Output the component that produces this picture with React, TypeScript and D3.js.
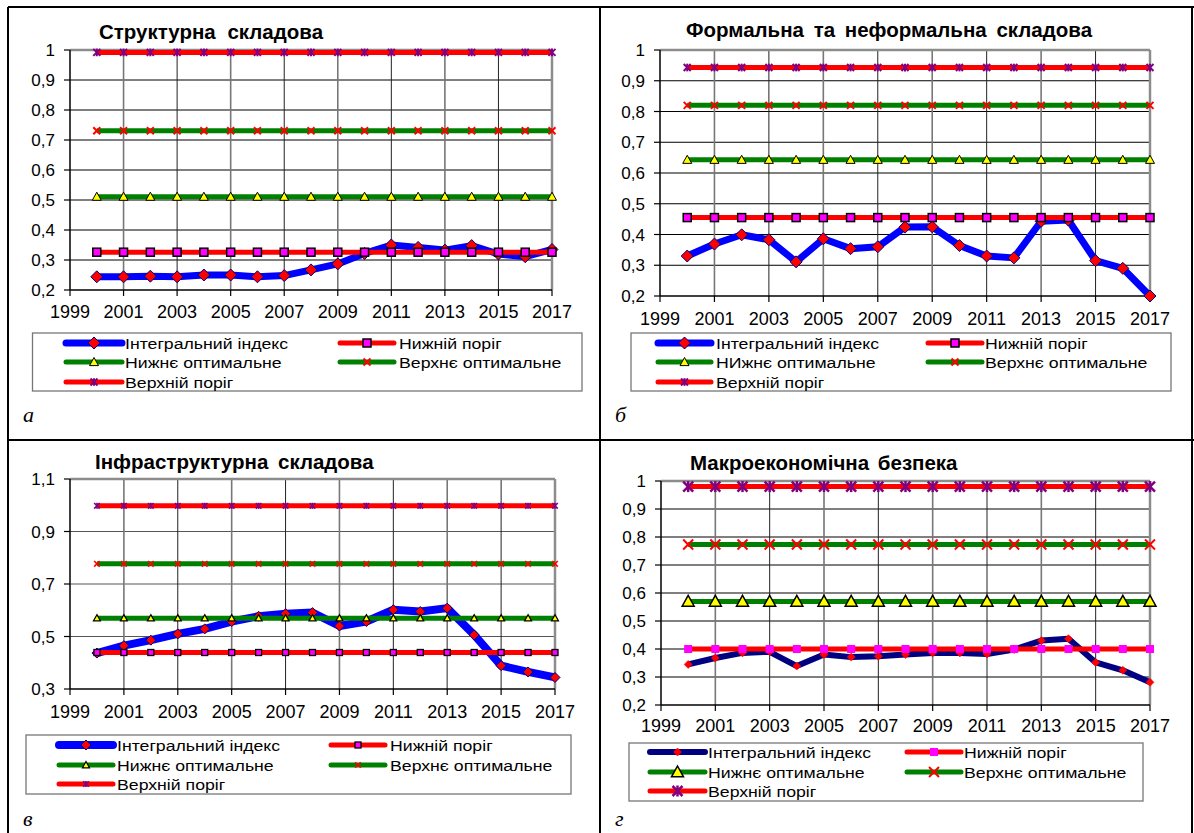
import React from 'react';
import * as d3 from 'd3';

const years = [2000, 2001, 2002, 2003, 2004, 2005, 2006, 2007, 2008, 2009, 2010, 2011, 2012, 2013, 2014, 2015, 2016, 2017];
const xTickYears = [1999, 2001, 2003, 2005, 2007, 2009, 2011, 2013, 2015, 2017];

// Panel а — Структурна складова
const structIndex = [0.244, 0.244, 0.246, 0.244, 0.25, 0.25, 0.244, 0.248, 0.267, 0.287, 0.322, 0.35, 0.342, 0.333, 0.348, 0.32, 0.311, 0.335];
const structThresholds = [0.326, 0.511, 0.731, 0.992]; // нижній поріг, нижнє опт., верхнє опт., верхній поріг
const structYTicks = [0.2, 0.3, 0.4, 0.5, 0.6, 0.7, 0.8, 0.9, 1];
const structYLabels = ['0,2', '0,3', '0,4', '0,5', '0,6', '0,7', '0,8', '0,9', '1'];

// Panel б — Формальна та неформальна складова
const formalIndex = [0.33, 0.369, 0.399, 0.383, 0.311, 0.386, 0.354, 0.36, 0.424, 0.425, 0.364, 0.33, 0.324, 0.443, 0.447, 0.315, 0.29, 0.2];
const formalThresholds = [0.455, 0.643, 0.82, 0.943];
const formalYTicks = [0.2, 0.3, 0.4, 0.5, 0.6, 0.7, 0.8, 0.9, 1];
const formalYLabels = ['0,2', '0,3', '0,4', '0,5', '0,6', '0,7', '0,8', '0,9', '1'];

// Panel в — Інфраструктурна складова
const infraIndex = [0.437, 0.465, 0.486, 0.51, 0.529, 0.557, 0.577, 0.587, 0.591, 0.54, 0.557, 0.602, 0.595, 0.608, 0.506, 0.389, 0.365, 0.344];
const infraThresholds = [0.439, 0.57, 0.777, 0.998];
const infraYTicks = [0.3, 0.5, 0.7, 0.9, 1.1];
const infraYLabels = ['0,3', '0,5', '0,7', '0,9', '1,1'];

// Panel г — Макроекономічна безпека
const macroIndex = [0.345, 0.368, 0.386, 0.39, 0.339, 0.38, 0.371, 0.374, 0.38, 0.386, 0.386, 0.382, 0.398, 0.43, 0.437, 0.352, 0.324, 0.281];
const macroThresholds = [0.4, 0.57, 0.773, 0.98];
const macroYTicks = [0.2, 0.3, 0.4, 0.5, 0.6, 0.7, 0.8, 0.9, 1];
const macroYLabels = ['0,2', '0,3', '0,4', '0,5', '0,6', '0,7', '0,8', '0,9', '1'];

const legendLabels = ['Інтегральний індекс', 'Нижній поріг', 'Нижнє оптимальне', 'Верхнє оптимальне', 'Верхній поріг'];
const legendLabelsB = ['Інтегральний індекс', 'Нижній поріг', 'НИжнє оптимальне', 'Верхнє оптимальне', 'Верхній поріг'];

const FONT = '"Liberation Sans", Arial, sans-serif';

type MarkerStyle = { type: string; size: number; fill: string; stroke: string; sw: number };

function Marker({ m, x, y }: { m: MarkerStyle; x: number; y: number }) {
  const s = m.size;
  if (m.type === 'diamond') {
    return <polygon points={`${x},${y - s} ${x + s},${y} ${x},${y + s} ${x - s},${y}`} fill={m.fill} stroke={m.stroke} strokeWidth={m.sw} />;
  }
  if (m.type === 'square') {
    return <rect x={x - s} y={y - s} width={2 * s} height={2 * s} fill={m.fill} stroke={m.stroke} strokeWidth={m.sw} />;
  }
  if (m.type === 'triangle') {
    return <polygon points={`${x},${y - s} ${x + s},${y + s * 0.8} ${x - s},${y + s * 0.8}`} fill={m.fill} stroke={m.stroke} strokeWidth={m.sw} />;
  }
  if (m.type === 'x') {
    return (
      <g stroke={m.stroke} strokeWidth={m.sw}>
        <line x1={x - s} y1={y - s} x2={x + s} y2={y + s} />
        <line x1={x - s} y1={y + s} x2={x + s} y2={y - s} />
      </g>
    );
  }
  // star (asterisk)
  return (
    <g stroke={m.stroke} strokeWidth={m.sw}>
      <line x1={x - s} y1={y - s} x2={x + s} y2={y + s} />
      <line x1={x - s} y1={y + s} x2={x + s} y2={y - s} />
      <line x1={x} y1={y - s * 1.1} x2={x} y2={y + s * 1.1} />
    </g>
  );
}

type SeriesStyle = { color: string; width: number; marker: MarkerStyle };

type PanelCfg = {
  title: string; titleX: number; titleY: number; titleSpacing: number;
  letter: string; letterX: number; letterY: number;
  l: number; r: number; t: number; b: number;
  yTicks: number[]; yLabels: string[];
  index: number[]; thresholds: number[];
  styles: SeriesStyle[];
  xLabelY: number;
  hGrid: string;
  legend: { x: number; y: number; w: number; h: number; rows: number[]; c1: number[]; c2: number[] };
  labels: string[];
};

function Panel({ p }: { p: PanelCfg }) {
  const x = d3.scaleLinear().domain([1999, 2017]).range([p.l, p.r]);
  const y = d3.scaleLinear().domain([p.yTicks[0], p.yTicks[p.yTicks.length - 1]]).range([p.b, p.t]);
  const line = d3.line<[number, number]>().x((d) => x(d[0])).y((d) => y(d[1]));
  const seriesVals: number[][] = [p.index, ...p.thresholds.map((v) => years.map(() => v))];
  const L = p.legend;
  const legendPos = [
    { lx: L.c1, ly: L.rows[0] },
    { lx: L.c2, ly: L.rows[0] },
    { lx: L.c1, ly: L.rows[1] },
    { lx: L.c2, ly: L.rows[1] },
    { lx: L.c1, ly: L.rows[2] },
  ];
  return (
    <g>
      <text x={p.titleX} y={p.titleY} fontFamily={FONT} fontWeight="bold" fontSize={20.5} wordSpacing={p.titleSpacing}>{p.title}</text>
      {/* horizontal grid */}
      {p.yTicks.slice(1, -1).map((v) => (
        <line key={'h' + v} x1={p.l} x2={p.r} y1={y(v)} y2={y(v)} stroke={p.hGrid} strokeWidth={1} />
      ))}
      {/* vertical grid */}
      {xTickYears.slice(1, -1).map((yr, i) => (
        <line key={'v' + yr} x1={x(yr)} x2={x(yr)} y1={p.t} y2={p.b} stroke={i % 2 === 1 ? '#222' : '#777'} strokeWidth={i % 2 === 1 ? 1 : 1.6} />
      ))}
      {/* top/right border */}
      <line x1={p.l} x2={p.r} y1={p.t} y2={p.t} stroke="#8c8c8c" strokeWidth={2.5} />
      <line x1={p.r} x2={p.r} y1={p.t} y2={p.b} stroke="#8c8c8c" strokeWidth={2.5} />
      {/* axes */}
      <line x1={p.l} x2={p.l} y1={p.t} y2={p.b} stroke="#000" strokeWidth={1.5} />
      <line x1={p.l} x2={p.r} y1={p.b} y2={p.b} stroke="#000" strokeWidth={1.5} />
      {p.yTicks.map((v, i) => (
        <g key={'yt' + v}>
          <line x1={p.l - 6} x2={p.l} y1={y(v)} y2={y(v)} stroke="#000" strokeWidth={1.2} />
          <text x={p.l - 15} y={y(v) + 6} textAnchor="end" fontFamily={FONT} fontSize={17}>{p.yLabels[i]}</text>
        </g>
      ))}
      {xTickYears.map((yr) => (
        <g key={'xt' + yr}>
          <line x1={x(yr)} x2={x(yr)} y1={p.b} y2={p.b + 6} stroke="#000" strokeWidth={1.2} />
          <text x={x(yr)} y={p.xLabelY} textAnchor="middle" fontFamily={FONT} fontSize={18}>{yr}</text>
        </g>
      ))}
      {/* series */}
      {seriesVals.map((vals, si) => {
        const st = p.styles[si];
        const pts: [number, number][] = years.map((yr, i) => [yr, vals[i]]);
        return (
          <g key={'s' + si}>
            <path d={line(pts) || ''} fill="none" stroke={st.color} strokeWidth={st.width} strokeLinejoin="round" />
            {pts.map((d) => (
              <Marker key={d[0]} m={st.marker} x={x(d[0])} y={y(d[1])} />
            ))}
          </g>
        );
      })}
      {/* legend */}
      <rect x={L.x} y={L.y} width={L.w} height={L.h} fill="#fff" stroke="#777" strokeWidth={1.3} />
      {legendPos.map((lp, i) => {
        const st = p.styles[i];
        return (
          <g key={'lg' + i}>
            <line x1={lp.lx[0]} x2={lp.lx[1]} y1={lp.ly} y2={lp.ly} stroke={st.color} strokeWidth={st.width} strokeLinecap="round" />
            <Marker m={st.marker} x={(lp.lx[0] + lp.lx[1]) / 2} y={lp.ly} />
            <text transform={`translate(${lp.lx[2]},${lp.ly + 5.5}) scale(1.18,1)`} fontFamily={FONT} fontSize={15}>{p.labels[i]}</text>
          </g>
        );
      })}
      <text x={p.letterX} y={p.letterY} fontFamily='"Liberation Serif", "Times New Roman", serif' fontStyle="italic" fontSize={22}>{p.letter}</text>
    </g>
  );
}

const RED = '#FF0000';
const GREEN = '#008000';

const stylesA: SeriesStyle[] = [
  { color: '#0000FF', width: 7, marker: { type: 'diamond', size: 6, fill: RED, stroke: '#000080', sw: 1 } },
  { color: RED, width: 5, marker: { type: 'square', size: 4, fill: '#FF00FF', stroke: '#000', sw: 1.5 } },
  { color: GREEN, width: 5, marker: { type: 'triangle', size: 4.5, fill: '#FFFF00', stroke: '#000', sw: 1 } },
  { color: GREEN, width: 5, marker: { type: 'x', size: 3.5, fill: 'none', stroke: RED, sw: 2 } },
  { color: RED, width: 5, marker: { type: 'star', size: 3.5, fill: 'none', stroke: '#800080', sw: 2 } },
];
const stylesB = stylesA;
const stylesC: SeriesStyle[] = [
  { color: '#0000FF', width: 8, marker: { type: 'diamond', size: 5, fill: RED, stroke: '#000080', sw: 1 } },
  { color: RED, width: 5, marker: { type: 'square', size: 3, fill: '#FF00FF', stroke: '#000', sw: 1.3 } },
  { color: GREEN, width: 5, marker: { type: 'triangle', size: 3.5, fill: '#FFFF00', stroke: '#000', sw: 1.2 } },
  { color: GREEN, width: 5, marker: { type: 'x', size: 2.8, fill: 'none', stroke: RED, sw: 1.6 } },
  { color: RED, width: 5, marker: { type: 'star', size: 2.8, fill: 'none', stroke: '#800080', sw: 1.6 } },
];
const stylesD: SeriesStyle[] = [
  { color: '#000080', width: 6, marker: { type: 'diamond', size: 4, fill: RED, stroke: RED, sw: 0.5 } },
  { color: RED, width: 5, marker: { type: 'square', size: 4, fill: '#FF00FF', stroke: 'none', sw: 0 } },
  { color: GREEN, width: 5, marker: { type: 'triangle', size: 6, fill: '#FFFF00', stroke: '#000', sw: 1.5 } },
  { color: GREEN, width: 5, marker: { type: 'x', size: 5, fill: 'none', stroke: RED, sw: 2 } },
  { color: RED, width: 5, marker: { type: 'star', size: 5, fill: 'none', stroke: '#800080', sw: 2.5 } },
];

const panels: PanelCfg[] = [
  {
    title: 'Структурна складова', titleX: 99, titleY: 39, titleSpacing: 6, letter: 'а', letterX: 23, letterY: 422,
    l: 70, r: 552, t: 50, b: 290, yTicks: structYTicks, yLabels: structYLabels,
    index: structIndex, thresholds: structThresholds, styles: stylesA, xLabelY: 318, hGrid: '#000',
    legend: { x: 32.5, y: 333, w: 549.5, h: 58, rows: [343, 362, 382], c1: [66, 122, 125], c2: [340, 394, 399] },
    labels: legendLabels,
  },
  {
    title: 'Формальна та неформальна складова', titleX: 686, titleY: 37, titleSpacing: 4, letter: 'б', letterX: 615, letterY: 422,
    l: 660, r: 1150, t: 50, b: 296, yTicks: formalYTicks, yLabels: formalYLabels,
    index: formalIndex, thresholds: formalThresholds, styles: stylesB, xLabelY: 325, hGrid: '#000',
    legend: { x: 631, y: 333, w: 540, h: 58, rows: [343, 362, 382], c1: [658, 711, 716], c2: [928, 982, 985] },
    labels: legendLabelsB,
  },
  {
    title: 'Інфраструктурна складова', titleX: 95, titleY: 469, titleSpacing: 4, letter: 'в', letterX: 23, letterY: 826,
    l: 70, r: 555, t: 479, b: 689, yTicks: infraYTicks, yLabels: infraYLabels,
    index: infraIndex, thresholds: infraThresholds, styles: stylesC, xLabelY: 718, hGrid: '#555',
    legend: { x: 26, y: 735, w: 545, h: 59, rows: [745, 765, 784], c1: [59, 113, 117], c2: [331, 385, 390] },
    labels: legendLabels,
  },
  {
    title: 'Макроекономічна безпека', titleX: 690, titleY: 470, titleSpacing: 3, letter: 'г', letterX: 615, letterY: 826,
    l: 661, r: 1150, t: 481, b: 705, yTicks: macroYTicks, yLabels: macroYLabels,
    index: macroIndex, thresholds: macroThresholds, styles: stylesD, xLabelY: 732, hGrid: '#000',
    legend: { x: 629, y: 743, w: 514, h: 58, rows: [752, 772, 791], c1: [650, 705, 708], c2: [907, 961, 964] },
    labels: legendLabels,
  },
];

export default function App() {
  return (
    <svg width={1194} height={833} style={{ position: 'absolute', left: 0, top: 0, background: '#fff' }}>
      <rect x={0} y={0} width={1194} height={833} fill="#fff" />
      {panels.map((p, i) => <Panel key={i} p={p} />)}
      {/* table frame */}
      <line x1={8} x2={1194} y1={7} y2={7} stroke="#000" strokeWidth={2} />
      <line x1={8} x2={8} y1={7} y2={833} stroke="#000" strokeWidth={2} />
      <line x1={1192} x2={1192} y1={7} y2={833} stroke="#000" strokeWidth={2} />
      <line x1={600} x2={600} y1={7} y2={833} stroke="#000" strokeWidth={2} />
      <line x1={8} x2={1194} y1={440} y2={440} stroke="#000" strokeWidth={2} />
    </svg>
  );
}
